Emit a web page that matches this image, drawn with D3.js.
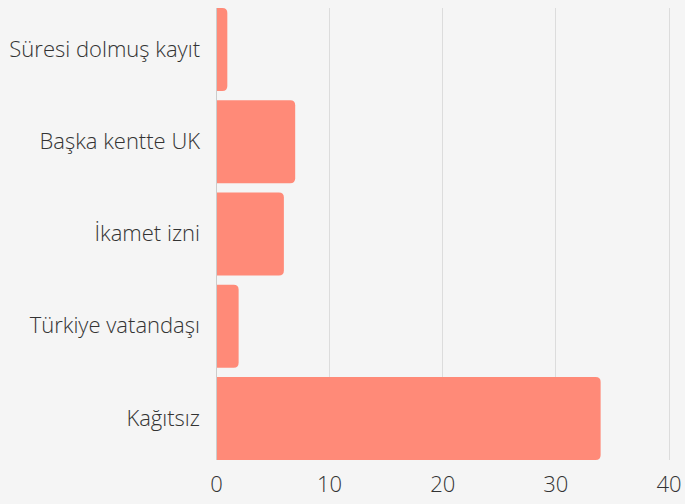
<!DOCTYPE html>
<html><head><meta charset="utf-8">
<script src="https://cdn.jsdelivr.net/npm/d3@7"></script>
<style>
html,body{margin:0;padding:0;background:#f5f5f5;}
svg{display:block;font-family:"Open Sans",sans-serif;}
</style></head>
<body>
<svg id="chart" width="685" height="504"></svg>
<script>
const categories = ["Süresi dolmuş kayıt","Başka kentte UK","İkamet izni","Türkiye vatandaşı","Kağıtsız"];
const values = [1,7,6,2,34];
const ticks = [0,10,20,30,40];

const svg = d3.select("#chart");
const W = 685, H = 504;
const m = {left:216, right:16.5, top:8, bottom:44};
const x = d3.scaleLinear().domain([0,40]).range([m.left, W - m.right]);
const y = d3.scaleBand().domain(categories).range([m.top, H - m.bottom]).paddingInner(0.1).paddingOuter(0);

svg.append("rect").attr("width",W).attr("height",H).attr("fill","#f5f5f5");

// gridlines
svg.append("g").selectAll("line").data(ticks.slice(1)).join("line")
  .attr("x1",d=>Math.round(x(d))+0.5).attr("x2",d=>Math.round(x(d))+0.5)
  .attr("y1",m.top).attr("y2",H-m.bottom)
  .attr("stroke","#dcdcdc").attr("stroke-width",1);

// bars with rounded right corners
const r = 5;
function barPath(x0, x1, y0, h){
  const rr = Math.min(r, (x1-x0), h/2);
  return `M${x0},${y0}H${x1-rr}Q${x1},${y0} ${x1},${y0+rr}V${y0+h-rr}Q${x1},${y0+h} ${x1-rr},${y0+h}H${x0}Z`;
}
svg.append("g").selectAll("path").data(categories).join("path")
  .attr("d",(c,i)=>barPath(x(0), x(values[i]), y(c), y.bandwidth()))
  .attr("fill","#ff8a78");

// zero axis line
svg.append("line").attr("x1",x(0)+0.5).attr("x2",x(0)+0.5)
  .attr("y1",m.top).attr("y2",H-m.bottom).attr("stroke","#cccccc");

// x axis
const xAxis = d3.axisBottom(x).tickValues(ticks).tickSize(0).tickPadding(16).tickFormat(d3.format("d"));
const gx = svg.append("g").attr("transform",`translate(0,${H-m.bottom})`).call(xAxis);
gx.select(".domain").remove();
gx.selectAll("text").attr("font-size",22).attr("font-weight",300).attr("fill","#333").attr("font-family","Open Sans");

// y axis
const yAxis = d3.axisLeft(y).tickSize(0).tickPadding(16);
const gy = svg.append("g").attr("transform",`translate(${m.left},0)`).call(yAxis);
gy.select(".domain").remove();
gy.selectAll("text").attr("font-size",22).attr("font-weight",300).attr("fill","#333").attr("font-family","Open Sans");
</script>
</body></html>
